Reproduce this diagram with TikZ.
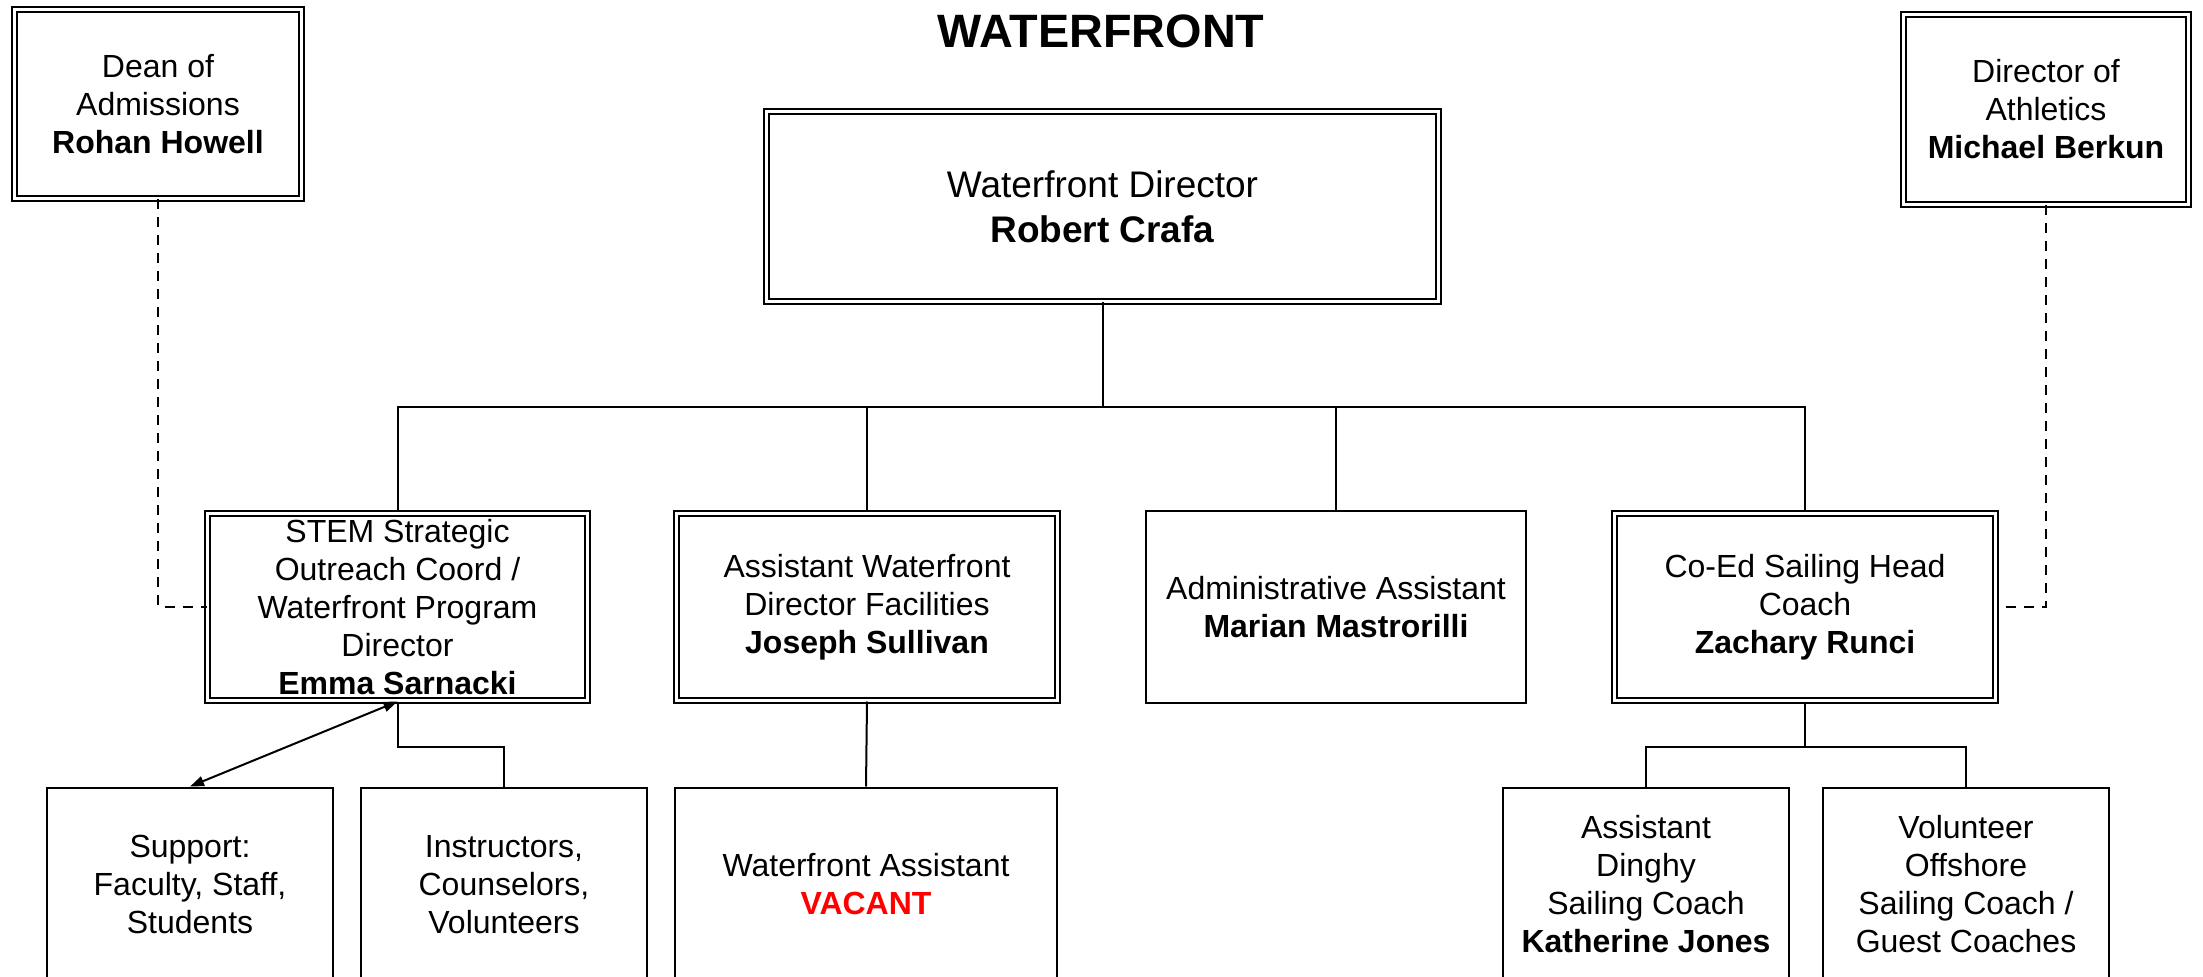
\documentclass[tikz,border=0pt]{standalone}
\usepackage{fontspec}
\setmainfont{Liberation Sans}
\usepackage{xcolor}
\usetikzlibrary{positioning,arrows.meta}
\definecolor{vacantred}{HTML}{FF0000}

\tikzset{
  post/.style={draw, line width=1pt, align=center, inner sep=0pt,
    font=\fontsize{16}{19}\selectfont},
  dblpost/.style={post, double, double distance=1.5pt},
  wire/.style={line width=1pt},
  dotwire/.style={line width=1pt, dash pattern=on 5pt off 4pt},
}

\begin{document}
\begin{tikzpicture}[x=0.5pt, y=-0.5pt]
  % frame = reference pixels (2203 x 977), lower boxes run off the bottom
  \useasboundingbox (0,0) rectangle (2203,977);
  \clip (0,0) rectangle (2203,977);

  \node[font=\bfseries\fontsize{23.4}{28}\selectfont] (title) at (1101,31) {WATERFRONT};

  % top row
  \node[dblpost, minimum width=143.5pt, minimum height=94.5pt] (dean) at (158,104)
    {Dean of\\Admissions\\\textbf{Rohan Howell}};
  \node[dblpost, minimum width=142.5pt, minimum height=95pt] (athl) at (2046,109.5)
    {Director of\\Athletics\\\textbf{Michael Berkun}};
  \node[dblpost, minimum width=336pt, minimum height=95pt,
    font=\fontsize{18.5}{22.5}\selectfont] (wfdir) at (1102.5,206.5)
    {Waterfront Director\\\textbf{Robert Crafa}};

  % second row
  \node[dblpost, minimum width=190pt, minimum height=93.5pt] (stem) at (397.5,607)
    {STEM Strategic\\Outreach Coord /\\Waterfront Program\\Director\\\textbf{Emma Sarnacki}};
  \node[dblpost, minimum width=190.5pt, minimum height=93.5pt] (asst) at (867,607)
    {Assistant Waterfront\\Director Facilities\\\textbf{Joseph Sullivan}};
  \node[post, minimum width=190pt, minimum height=96pt] (admin) at (1336,607)
    {Administrative Assistant\\\textbf{Marian Mastrorilli}};
  \node[dblpost, minimum width=190.5pt, minimum height=93.5pt] (coed) at (1805,607)
    {Co-Ed Sailing Head\\Coach\\\textbf{Zachary Runci}};

  % third row
  \node[post, minimum width=143pt, minimum height=97pt] (support) at (190,884.5)
    {Support:\\Faculty, Staff,\\Students};
  \node[post, minimum width=143pt, minimum height=97pt] (instr) at (504,884.5)
    {Instructors,\\Counselors,\\Volunteers};
  \node[post, minimum width=191pt, minimum height=97pt] (wfasst) at (866,884.5)
    {Waterfront Assistant\\\textcolor{vacantred}{\textbf{VACANT}}};
  \node[post, minimum width=143pt, minimum height=97pt] (dinghy) at (1646,884.5)
    {Assistant\\Dinghy\\Sailing Coach\\\textbf{Katherine Jones}};
  \node[post, minimum width=143pt, minimum height=97pt] (offshore) at (1966,884.5)
    {Volunteer\\Offshore\\Sailing Coach /\\Guest Coaches};

  % reporting lines
  \foreach \n in {stem,asst,admin,coed}
    \draw[wire] (wfdir.south) -- ++(0,105) -| (\n.north);
  \draw[wire] (stem.south) -- ++(0,45) -| (instr.north);
  \draw[wire] (asst.south) -- (wfasst.north);
  \draw[wire] (coed.south) -- ++(0,45) -| (dinghy.north);
  \draw[wire] (coed.south) -- ++(0,45) -| (offshore.north);
  \draw[wire, {Triangle[length=7pt,width=5pt]}-{Triangle[length=7pt,width=5pt]}]
    (stem.south) -- (support.north);

  % dotted-line reports
  \draw[dotwire] (dean.south) |- (stem.west);
  \draw[dotwire] (athl.south) |- (coed.east);
\end{tikzpicture}
\end{document}
